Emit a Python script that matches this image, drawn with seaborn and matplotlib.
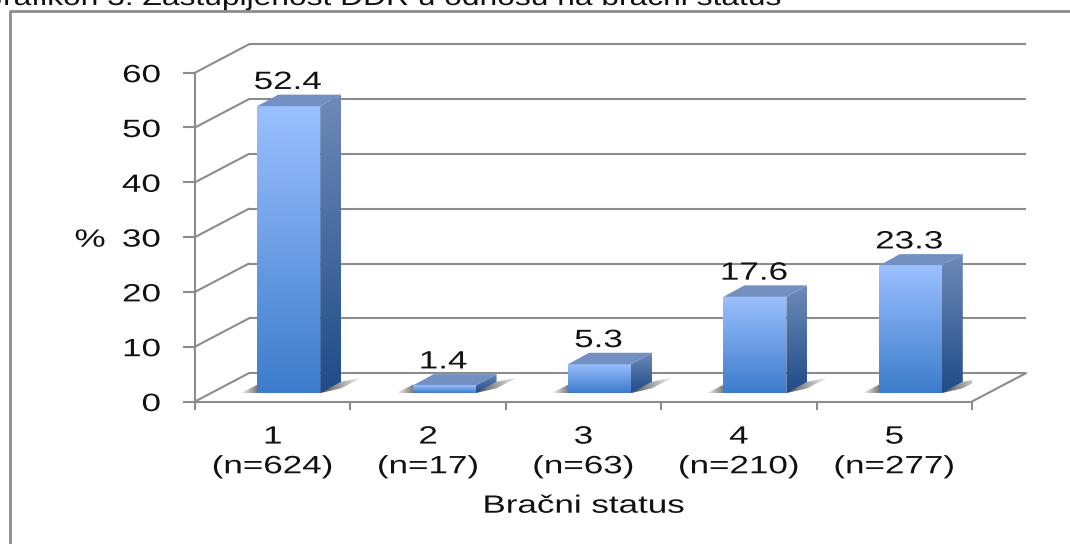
import numpy as np
import pandas as pd
import matplotlib
matplotlib.use("Agg")
import matplotlib.pyplot as plt
import matplotlib.patheffects as pe
import seaborn as sns
from matplotlib.colors import to_rgba
from matplotlib.lines import Line2D
from matplotlib.patches import Polygon
from matplotlib.transforms import Affine2D, IdentityTransform

# Datos del grafico
categorias = ["1", "2", "3", "4", "5"]
muestras = ["n=624", "n=17", "n=63", "n=210", "n=277"]
porcentajes = [52.4, 1.4, 5.3, 17.6, 23.3]
marcas_y = [0, 10, 20, 30, 40, 50, 60]
titulo = "Grafikon 3: Zastupljenost DDR u odnosu na bračni status"

W, H = 1070, 544
GRIS = "#8c8c8c"
LW = 1.5
# profundidad de la caja 3D y de las barras, en pixeles
PARED = (54, 28.4)
SUELO = (16, 8.2)
LADO = (21, 11.5)


# El texto original esta estirado en horizontal
class Estirar(pe.AbstractPathEffect):
    def __init__(self, factor, cx):
        super().__init__()
        self.factor = factor
        self.cx = cx

    def draw_path(self, renderer, gc, tpath, affine, rgbFace=None):
        t = Affine2D().translate(-self.cx, 0).scale(self.factor, 1).translate(self.cx, 0)
        renderer.draw_path(gc, tpath, affine + t, rgbFace)


def estirar_texto(fig, t, factor=1.4):
    r = fig.canvas.get_renderer()
    caja = t.get_window_extent(r)
    ha = t.get_ha()
    cx = {"left": caja.x0, "right": caja.x1}.get(ha, (caja.x0 + caja.x1) / 2)
    t.set_path_effects([Estirar(factor, cx)])


def degradado(ax, verts, c0, c1, vertical=True, z=4):
    verts = np.array(verts)
    n = 64
    c0, c1 = np.array(to_rgba(c0)), np.array(to_rgba(c1))
    paso = np.linspace(0, 1, n)[:, None]
    img = (c0 + (c1 - c0) * paso)[:, None, :] if vertical else (c0 + (c1 - c0) * paso)[None, :, :]
    l, b = verts.min(axis=0)
    r, t = verts.max(axis=0)
    im = ax.imshow(img, extent=(l, r, b, t), transform=IdentityTransform(), aspect="auto",
                   interpolation="bilinear", zorder=z, origin="upper")
    im.set_clip_path(Polygon(verts, closed=True, transform=IdentityTransform()))


sns.set_theme(style="white")
plt.rcParams["font.family"] = ["Liberation Sans", "DejaVu Sans"]

df = pd.DataFrame({"categoria": categorias, "porcentaje": porcentajes})

fig = plt.figure(figsize=(W / 100, H / 100), dpi=100)
ax = fig.add_axes([195 / W, (H - 401.5) / H, 777 / W, 328.8 / H])
ax.patch.set_visible(False)

sns.barplot(data=df, x="categoria", y="porcentaje", width=0.405, color="#5b8fd8", ax=ax)
ax.set_xlim(-0.5, 4.5)
ax.set_ylim(0, 60)
ax.autoscale(False)

# Caja 3D: pared del fondo y suelo
fondo = ax.transData + Affine2D().translate(*PARED)
ax.hlines(marcas_y, -0.5, 4.5, colors=GRIS, lw=LW, transform=fondo, clip_on=False, zorder=1)
for v in marcas_y:
    x0, y0 = ax.transData.transform((-0.5, v))
    ax.add_line(Line2D([x0, x0 + PARED[0]], [y0, y0 + PARED[1]], color=GRIS, lw=LW,
                       transform=IdentityTransform(), clip_on=False, zorder=1))
x0, y0 = ax.transData.transform((4.5, 0))
ax.add_line(Line2D([x0, x0 + PARED[0]], [y0, y0 + PARED[1]], color=GRIS, lw=LW,
                   transform=IdentityTransform(), clip_on=False, zorder=1))

# Barras: cara frontal degradada, lateral, tapa y sombra
mover = ax.transData + Affine2D().translate(*SUELO)
for i, p in enumerate(ax.patches):
    p.set_transform(mover)
    p.set_facecolor("none")
    p.set_edgecolor("none")
    (xa, ya), (xb, yb) = mover.transform([(p.get_x(), 0), (p.get_x() + p.get_width(), p.get_height())])
    dx, dy = LADO

    degradado(ax, [(xa - 17, ya), (xa + 1, ya + 9), (xa + 1, ya)], (0.4, 0.4, 0.4, 0), (0.4, 0.4, 0.4, 0.9), vertical=False, z=2)
    degradado(ax, [(xb - 1, ya), (xb + dx, ya + dy), (xb + dx + 20, ya + dy + 4), (xb + dx, ya + 5)],
              (0.25, 0.25, 0.25, 1), (0.45, 0.45, 0.45, 0.15), vertical=False, z=2)
    degradado(ax, [(xa, ya), (xb, ya), (xb, yb), (xa, yb)], "#9bc0ff", "#3d7ccb")
    degradado(ax, [(xb, ya), (xb + dx, ya + dy), (xb + dx, yb + dy), (xb, yb)], "#6e8ab8", "#1f4c88")
    ax.add_patch(Polygon([(xa, yb), (xb, yb), (xb + dx, yb + dy), (xa + dx, yb + dy)], closed=True,
                         facecolor="#7290c2", edgecolor="none", transform=IdentityTransform(),
                         clip_on=False, zorder=4))

    ax.annotate(f"{porcentajes[i]:.1f}", xy=(i, porcentajes[i]), xytext=(15 * 0.72, 25.4 * 0.72),
                textcoords="offset points", ha="center", va="baseline", fontsize=18,
                color="#111111", annotation_clip=False, zorder=6)

# Ejes
sns.despine(ax=ax)
for lado in ["left", "bottom"]:
    ax.spines[lado].set_color(GRIS)
    ax.spines[lado].set_linewidth(LW)
    ax.spines[lado].set_zorder(1)

ax.set_yticks(marcas_y)
ax.set_xticks(range(5), [f"{c}\n({m})" for c, m in zip(categorias, muestras)], linespacing=1.3)
ax.set_xticks(np.arange(-0.5, 5), minor=True)
ax.tick_params(axis="y", left=True, length=8.6, width=LW, color=GRIS, pad=15.8, labelsize=18, labelcolor="#111111")
ax.tick_params(axis="x", which="major", bottom=False, length=0, pad=16.6, labelsize=18, labelcolor="#111111")
ax.tick_params(axis="x", which="minor", bottom=True, length=5.8, width=LW, color=GRIS)

ax.set_xlabel("Bračni status", fontsize=18, color="#111111", labelpad=0)
ax.xaxis.set_label_coords(0.5, (401.5 - 512.7) / 328.8, transform=ax.transAxes)
ax.xaxis.label.set_va("baseline")
ax.set_ylabel("%", rotation=0, fontsize=18, color="#111111", ha="center", va="baseline")
ax.yaxis.set_label_coords((90 - 195) / 777, (401.5 - 246.7) / 328.8, transform=ax.transAxes)

# Titulo cortado arriba y marco exterior
t_titulo = fig.text(380 / W, 1 - 5 / H, titulo, ha="center", va="baseline", fontsize=18, color="#111111")
fig.add_artist(Line2D([10, 10, W], [0, H - 11, H - 11], color=GRIS, lw=2, transform=IdentityTransform()))

fig.canvas.draw()
textos = ax.get_xticklabels() + ax.get_yticklabels() + ax.texts + [ax.xaxis.label, ax.yaxis.label]
for t in textos:
    estirar_texto(fig, t)
estirar_texto(fig, t_titulo, 1.27)

fig.savefig("out.png", dpi=100)
